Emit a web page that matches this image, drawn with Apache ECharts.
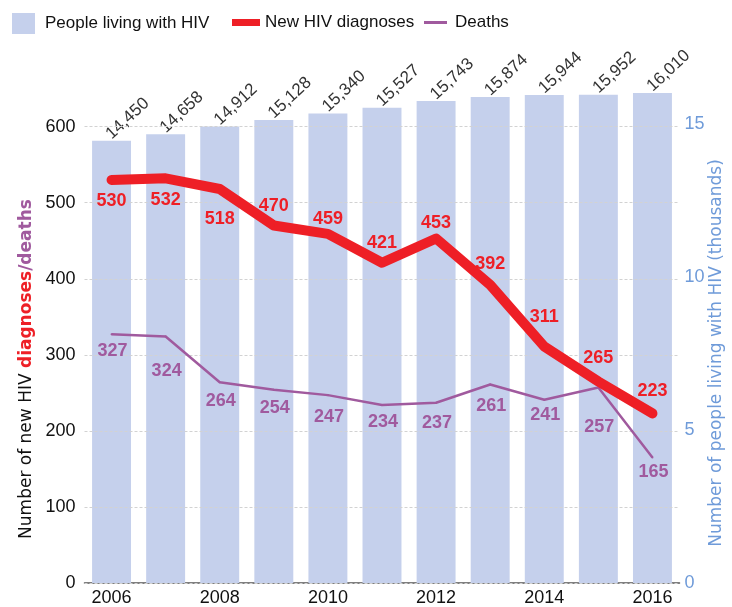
<!DOCTYPE html>
<html>
<head>
<meta charset="utf-8">
<script src="https://cdn.jsdelivr.net/npm/echarts@6/dist/echarts.min.js"></script>
<style>
html,body{margin:0;padding:0;background:#fff;}
#chart{width:732px;height:607px;}
</style>
</head>
<body>
<div id="chart"></div>
<script>
var years = ['2006','2007','2008','2009','2010','2011','2012','2013','2014','2015','2016'];
var peopleLiving = [14450,14658,14912,15128,15340,15527,15743,15874,15944,15952,16010];
var newDiagnoses = [530,532,518,470,459,421,453,392,311,265,223];
var deaths = [327,324,264,254,247,234,237,261,241,257,165];

// label placement (pixel offsets from each point), kept separate from the data
var diagLabelDy = [21,22,30,-19,-15,-20,-15,-21,-29,-23,-22];
var deathLabelDy = [17,34,19,18,22,17,20,22,15,40,15];

var RED = '#ee1f26';
var PURPLE = '#a05a9e';
var BLUE_BAR = '#c5d0ec';
var BLUE_TXT = '#6f9bd9';
var FONT = '"Liberation Sans", Arial, sans-serif';
var NAMEFONT = '"DejaVu Sans", sans-serif';

var chart = echarts.init(document.getElementById('chart'));

function lineData(vals, dys, dx) {
  return vals.map(function (v, i) {
    return { value: v, label: { offset: [dx, dys[i]] } };
  });
}

var gridColors = [];
for (var i = 0; i < 8; i++) gridColors.push(i < 7 ? '#d2d2d2' : 'rgba(0,0,0,0)');

var option = {
  animation: false,
  textStyle: { fontFamily: FONT },
  grid: { left: 84.5, right: 52.5, top: 81, height: 504, containLabel: false },
  legend: [
    {
      left: 7, top: 8, itemWidth: 23, itemHeight: 21, icon: 'rect',
      data: [{ name: 'People living with HIV', itemStyle: { color: BLUE_BAR } }],
      textStyle: { fontSize: 17, color: '#111', fontFamily: FONT, padding: [0, 0, 0, 5] }
    },
    {
      left: 227, top: 9, itemWidth: 28, itemHeight: 7, icon: 'rect',
      data: [{ name: 'New HIV diagnoses', itemStyle: { color: RED } }],
      textStyle: { fontSize: 17, color: '#111', fontFamily: FONT }
    },
    {
      left: 419, top: 9, itemWidth: 23, itemHeight: 3, icon: 'rect',
      data: [{ name: 'Deaths', itemStyle: { color: PURPLE } }],
      textStyle: { fontSize: 17, color: '#111', fontFamily: FONT, padding: [0, 0, 0, 3] }
    }
  ],
  xAxis: {
    type: 'category',
    data: years,
    boundaryGap: true,
    axisTick: { show: false },
    axisLine: { lineStyle: { color: '#555', width: 1.5 } },
    axisLabel: { interval: 1, fontSize: 18, color: '#111', margin: 6, fontFamily: FONT }
  },
  yAxis: [
    {
      type: 'value', min: 0, max: 660, interval: 100, z: 3,
      axisLine: { show: false }, axisTick: { show: false },
      axisLabel: { fontSize: 18, color: '#111', margin: 9, showMaxLabel: false, fontFamily: FONT },
      splitLine: { show: true, lineStyle: { color: gridColors, type: [3, 2], width: 1 } }
    },
    {
      type: 'value', min: 0, max: 16400, interval: 5000, position: 'right',
      axisLine: { show: false }, axisTick: { show: false },
      splitLine: { show: false },
      axisLabel: {
        fontSize: 18, color: BLUE_TXT, margin: 5, showMaxLabel: false, fontFamily: FONT,
        formatter: function (v) { return String(v / 1000); }
      }
    }
  ],
  graphic: [
    {
      type: 'text', x: 27, y: 369, rotation: Math.PI / 2,
      style: {
        text: 'Number of new HIV {r|diagnoses}{p|/deaths}',
        font: '17px ' + NAMEFONT, fill: '#111',
        textAlign: 'center', textVerticalAlign: 'middle',
        rich: {
          r: { fill: RED, fontWeight: 'bold', fontSize: 17, fontFamily: NAMEFONT },
          p: { fill: PURPLE, fontWeight: 'bold', fontSize: 17, fontFamily: NAMEFONT }
        }
      }
    },
    {
      type: 'text', x: 717, y: 353, rotation: Math.PI / 2,
      style: {
        text: 'Number of people living with HIV (thousands)',
        font: '17px ' + NAMEFONT, fill: BLUE_TXT,
        textAlign: 'center', textVerticalAlign: 'middle'
      }
    }
  ],
  series: [
    {
      name: 'People living with HIV',
      type: 'bar',
      yAxisIndex: 1,
      data: peopleLiving,
      barWidth: '72%',
      z: 2,
      itemStyle: { color: BLUE_BAR },
      label: {
        show: true, position: 'top', rotate: 43, align: 'left', verticalAlign: 'middle',
        distance: 7, offset: [-4, 0],
        fontSize: 17, color: '#333', fontFamily: FONT,
        formatter: function (p) { return p.value.toLocaleString('en-US'); }
      }
    },
    {
      name: 'New HIV diagnoses',
      type: 'line',
      yAxisIndex: 0,
      z: 6,
      data: lineData(newDiagnoses, diagLabelDy, 0),
      symbol: 'circle', symbolSize: 2,
      lineStyle: { color: RED, width: 10, cap: 'round', join: 'round' },
      itemStyle: { color: RED },
      label: {
        show: true, position: 'inside', fontSize: 18, fontWeight: 'bold', color: RED, fontFamily: FONT
      }
    },
    {
      name: 'Deaths',
      type: 'line',
      yAxisIndex: 0,
      z: 5,
      data: lineData(deaths, deathLabelDy, 1),
      symbol: 'circle', symbolSize: 2,
      lineStyle: { color: PURPLE, width: 2.5 },
      itemStyle: { color: PURPLE },
      label: {
        show: true, position: 'inside', fontSize: 18, fontWeight: 'bold', color: PURPLE, fontFamily: FONT
      }
    }
  ]
};
chart.setOption(option);
</script>
</body>
</html>
